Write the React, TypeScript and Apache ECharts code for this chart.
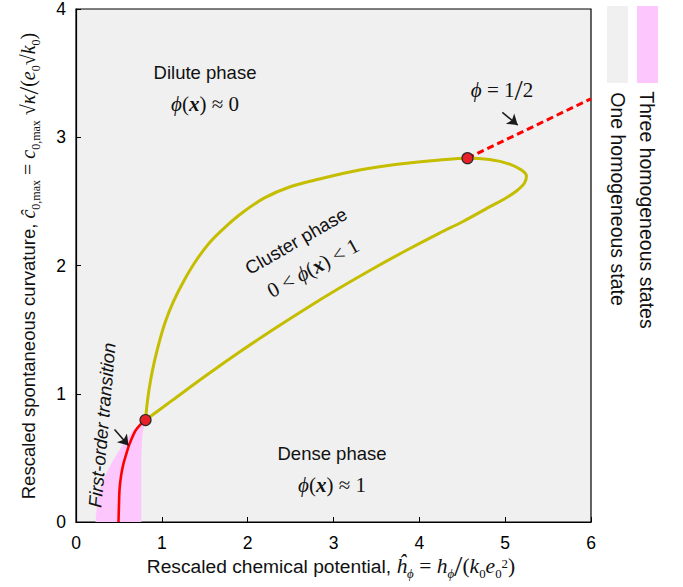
import React, { useEffect, useRef } from 'react';
import * as echarts from 'echarts';

// ---- data ----
const xTickValues = [0, 1, 2, 3, 4, 5, 6];
const yTickValues = [0, 1, 2, 3, 4];

// cluster-phase boundary loop (upper branch -> tip -> lower branch)
const loopX = [0.81, 0.833, 0.868, 0.915, 0.973, 1.043, 1.136, 1.253, 1.392, 1.555, 1.742, 1.952, 2.196, 2.488, 2.837, 3.303, 3.769, 4.235, 4.561, 4.818, 5.051, 5.19, 5.248, 5.225, 5.132, 4.99, 4.818, 4.503, 4.235, 3.851, 3.454, 3.07, 2.686, 2.289, 1.905, 1.52, 1.124, 0.81];
const loopY = [0.795, 0.946, 1.101, 1.256, 1.411, 1.566, 1.721, 1.876, 2.031, 2.178, 2.302, 2.419, 2.527, 2.612, 2.674, 2.744, 2.791, 2.822, 2.837, 2.826, 2.791, 2.744, 2.698, 2.643, 2.581, 2.519, 2.457, 2.341, 2.253, 2.119, 1.973, 1.824, 1.667, 1.497, 1.325, 1.144, 0.95, 0.795];

// first-order transition line
const firstOrderX = [0.495, 0.50, 0.507, 0.525, 0.553, 0.59, 0.624, 0.693, 0.75, 0.81];
const firstOrderY = [0.0, 0.12, 0.25, 0.36, 0.455, 0.54, 0.61, 0.713, 0.76, 0.795];

// three-homogeneous-states region
const pinkX = [0.227, 0.254, 0.312, 0.41, 0.527, 0.662, 0.81, 0.79, 0.77, 0.76, 0.76];
const pinkY = [0.0, 0.196, 0.326, 0.455, 0.584, 0.713, 0.795, 0.74, 0.66, 0.5, 0.0];

// phi = 1/2 line
const halfX = [4.561, 6.0];
const halfY = [2.837, 3.30];

// critical points
const criticalX = [0.81, 4.561];
const criticalY = [0.795, 2.837];

// annotation arrows [x1, y1, x2, y2]
const arrowHalf = [4.967, 3.194, 5.146, 3.095];
const arrowFirst = [0.449, 0.721, 0.612, 0.597];

const zip = (a: number[], b: number[]) => a.map((v, i) => [v, b[i]]);

const SANS = "'Liberation Sans', Arial, Helvetica, sans-serif";
const SERIF = "'Liberation Serif', 'Times New Roman', 'DejaVu Serif', serif";

const mathRich = (base: number, lh: number, sans = 18.5) => ({
  s: { fontFamily: SANS, fontSize: sans, lineHeight: lh, fill: '#111' },
  m: { fontFamily: SERIF, fontSize: base, lineHeight: lh, fill: '#111' },
  mi: { fontFamily: SERIF, fontSize: base, lineHeight: lh, fontStyle: 'italic', fill: '#111' },
  bx: { fontFamily: SERIF, fontSize: base, lineHeight: lh, fontStyle: 'italic', fontWeight: 'bold', fill: '#111' },
  sl: { fontFamily: SERIF, fontSize: base * 1.4, lineHeight: lh, fill: '#111' },
  sub: { fontFamily: SERIF, fontSize: base * 0.6, lineHeight: base * 0.6, verticalAlign: 'bottom', fill: '#111' },
  subi: { fontFamily: SERIF, fontSize: base * 0.6, lineHeight: base * 0.6, fontStyle: 'italic', verticalAlign: 'bottom', fill: '#111' },
  sup: { fontFamily: SERIF, fontSize: base * 0.6, lineHeight: base * 0.6, verticalAlign: 'top', padding: [5, 0, 0, 0], fill: '#111' },
});

const txt = (x: number, y: number, text: string, opts: any = {}) => ({
  type: 'text',
  x,
  y,
  rotation: opts.rotation || 0,
  z: 100,
  style: {
    text,
    fill: '#111',
    fontFamily: opts.fontFamily || SANS,
    fontSize: opts.fontSize || 18.5,
    fontStyle: opts.fontStyle || 'normal',
    align: 'center',
    verticalAlign: 'middle',
    rich: opts.rich,
  },
});

export default function App() {
  const ref = useRef<HTMLDivElement>(null);
  useEffect(() => {
    const chart = echarts.init(ref.current!, null, { renderer: 'svg' });
    const pinkPts = zip(pinkX, pinkY);
    const option: any = {
      animation: false,
      grid: {
        left: 76,
        top: 6,
        width: 515,
        height: 516,
        show: true,
        backgroundColor: '#f0f0f0',
        borderColor: '#000',
        borderWidth: 1.2,
      },
      xAxis: {
        type: 'value',
        min: xTickValues[0],
        max: xTickValues[xTickValues.length - 1],
        interval: 1,
        axisLine: { show: true, lineStyle: { color: '#000', width: 1.2 } },
        axisTick: { show: true, inside: true, length: 5, lineStyle: { color: '#000' } },
        axisLabel: { fontSize: 17.5, color: '#000', margin: 12, fontFamily: SANS },
        splitLine: { show: false },
      },
      yAxis: {
        type: 'value',
        min: yTickValues[0],
        max: yTickValues[yTickValues.length - 1],
        interval: 1,
        axisLine: { show: true, lineStyle: { color: '#000', width: 1.2 } },
        axisTick: { show: true, inside: true, length: 5, lineStyle: { color: '#000' } },
        axisLabel: { fontSize: 17.5, color: '#000', margin: 10, fontFamily: SANS },
        splitLine: { show: false },
      },
      series: [
        {
          type: 'custom',
          coordinateSystem: 'cartesian2d',
          data: pinkPts,
          z: 1,
          renderItem: (params: any, api: any) => {
            if (params.dataIndex !== 0) return null;
            const pts = pinkPts.map((p) => api.coord(p));
            return { type: 'polygon', shape: { points: pts }, style: { fill: '#fdc6fd' } };
          },
        },
        {
          type: 'line',
          data: zip(loopX, loopY),
          smooth: 0.35,
          showSymbol: false,
          z: 3,
          lineStyle: { color: '#c4bd00', width: 3 },
        },
        {
          type: 'line',
          data: zip(firstOrderX, firstOrderY),
          smooth: 0.3,
          showSymbol: false,
          z: 4,
          lineStyle: { color: '#ff0000', width: 2.6 },
        },
        {
          type: 'line',
          data: zip(halfX, halfY),
          showSymbol: false,
          z: 4,
          lineStyle: { color: '#ff0000', width: 3, type: [7, 4] },
        },
        {
          type: 'lines',
          coordinateSystem: 'cartesian2d',
          z: 6,
          symbol: ['none', 'arrow'],
          symbolSize: 10,
          lineStyle: { color: '#1a1a1a', width: 1.6, opacity: 1 },
          data: [
            { coords: [[arrowHalf[0], arrowHalf[1]], [arrowHalf[2], arrowHalf[3]]] },
            { coords: [[arrowFirst[0], arrowFirst[1]], [arrowFirst[2], arrowFirst[3]]] },
          ],
        },
        {
          type: 'scatter',
          data: zip(criticalX, criticalY),
          symbolSize: 11,
          z: 8,
          itemStyle: { color: '#e8202a', borderColor: '#2a2a2a', borderWidth: 1.2, opacity: 1 },
        },
      ],
      graphic: [
        // legend swatches
        { type: 'rect', shape: { x: 607, y: 6, width: 21, height: 77 }, style: { fill: '#f0f0f0' } },
        { type: 'rect', shape: { x: 637, y: 6, width: 21, height: 77 }, style: { fill: '#fdc6fd' } },
        txt(618, 199, 'One homogeneous state', { rotation: -Math.PI / 2, fontSize: 19.5 }),
        txt(647, 210, 'Three homogeneous states', { rotation: -Math.PI / 2, fontSize: 19.5 }),
        // region labels
        txt(205, 72, 'Dilute phase'),
        txt(205, 104, '{mi|ϕ}{m|(}{bx|x}{m|) ≈ 0}', { rich: mathRich(21, 24) }),
        txt(332, 453, 'Dense phase'),
        txt(332, 485, '{mi|ϕ}{m|(}{bx|x}{m|) ≈ 1}', { rich: mathRich(21, 24) }),
        txt(296, 241, 'Cluster phase', { rotation: 0.524 }),
        txt(313, 268, '{m|0 < }{mi|ϕ}{m|(}{bx|x}{m|) < 1}', { rotation: 0.5, rich: mathRich(21, 24) }),
        txt(502, 90, '{mi|ϕ}{m| = 1}{sl|/}{m|2}', { rich: mathRich(21, 28) }),
        txt(102, 425, 'First-order transition', { rotation: 1.485, fontStyle: 'italic' }),
        // axis titles
        txt(331, 566,
          '{s|Rescaled chemical potential, }{mi|ĥ}{subi|ϕ}{m| = }{mi|h}{subi|ϕ}{sl|/}{m|(}{mi|k}{sub|0}{mi|e}{sub|0}{sup|2}{m|)}',
          { rich: mathRich(21.5, 28, 19.2) }),
        txt(28, 266,
          '{s|Rescaled spontaneous curvature, }{mi|ĉ}{sub|0,max}{m| = }{mi|c}{sub|0,max}{m| √}{mi|κ}{sl|/}{m|(}{mi|e}{sub|0}{m|√}{mi|k}{sub|0}{m|)}',
          { rotation: Math.PI / 2, rich: mathRich(20, 28) }),
      ],
    };
    chart.setOption(option);
    return () => chart.dispose();
  }, []);
  return <div ref={ref} style={{ position: 'absolute', left: 0, top: 0, width: 683, height: 587 }} />;
}
